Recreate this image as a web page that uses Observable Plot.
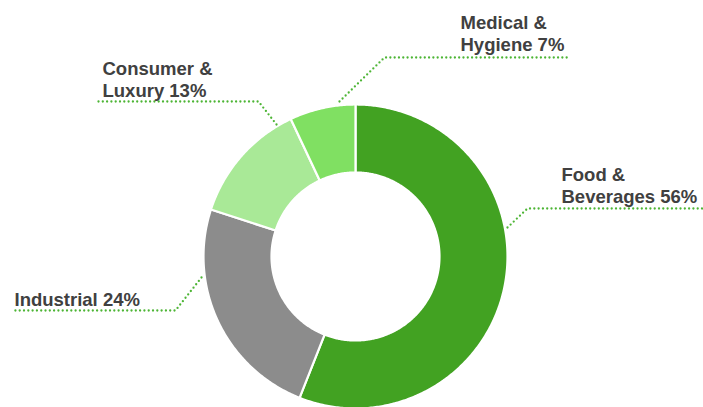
<!DOCTYPE html>
<html>
<head>
<meta charset="utf-8">
<script src="https://cdn.jsdelivr.net/npm/d3@7"></script>
<script src="https://cdn.jsdelivr.net/npm/@observablehq/plot@0.6"></script>
<style>
  html, body { margin: 0; padding: 0; background: #ffffff; }
  #chart svg { display: block; }
</style>
</head>
<body>
<div id="chart"></div>
<script>
// ---- data ----
const categories = ["Food & Beverages", "Industrial", "Consumer & Luxury", "Medical & Hygiene"];
const shares = [56, 24, 13, 7];
const colors = ["#42a222", "#8c8c8c", "#a9e997", "#80e062"];

// ---- layout (pixels) ----
const W = 703, H = 407;
const cx = 355, cy = 256, rOuter = 152, rInner = 84;
// label anchor (left x, top y) per category
const labelX = [561, 14, 102, 460];
const labelY = [165, 290, 59, 13];
// leader polylines per category: [start on ring, elbow, end]
const leaderPts = [
  [[507, 227], [527, 208], [703, 208]],
  [[201, 277], [175, 310], [13, 310]],
  [[276, 124], [258, 101], [97, 101]],
  [[339, 101], [384, 57], [567, 57]]
];

// ---- build slice polygons from the shares ----
const total = d3.sum(shares);
const sliceRows = [];
let acc = 0;
categories.forEach((cat, i) => {
  const a0 = acc / total * 2 * Math.PI;
  acc += shares[i];
  const a1 = acc / total * 2 * Math.PI;
  const n = Math.max(8, Math.ceil((a1 - a0) / 0.01));
  for (let k = 0; k <= n; k++) {
    const a = a0 + (a1 - a0) * k / n;
    sliceRows.push({cat, x: cx + rOuter * Math.sin(a), y: cy - rOuter * Math.cos(a)});
  }
  for (let k = n; k >= 0; k--) {
    const a = a0 + (a1 - a0) * k / n;
    sliceRows.push({cat, x: cx + rInner * Math.sin(a), y: cy - rInner * Math.cos(a)});
  }
});

const leaderRows = [];
leaderPts.forEach((pts, i) => pts.forEach(([x, y]) => leaderRows.push({cat: categories[i], x, y})));

const labels = categories.map((cat, i) => ({
  cat,
  x: labelX[i],
  y: labelY[i],
  text: cat.replace("& ", "&\n") + " " + shares[i] + "%"
}));

const chart = Plot.plot({
  width: W,
  height: H,
  margin: 0,
  style: {background: "#ffffff", overflow: "visible"},
  x: {domain: [0, W], range: [0, W], axis: null},
  y: {domain: [0, H], range: [0, H], axis: null},
  color: {domain: categories, range: colors},
  marks: [
    Plot.line(sliceRows, {x: "x", y: "y", z: "cat", fill: "cat", stroke: "#ffffff", strokeWidth: 2.2, curve: "linear-closed"}),
    Plot.line(leaderRows, {x: "x", y: "y", z: "cat", stroke: "#4db535", strokeWidth: 2.3, strokeDasharray: "0 4.3", strokeLinecap: "round", curve: "linear"}),
    Plot.text(labels, {
      x: "x", y: "y", text: "text",
      textAnchor: "start", lineAnchor: "top", lineHeight: 1.2,
      fontSize: 18.5, fontWeight: "bold", fill: "#404040",
      fontFamily: "'Liberation Sans', Arial, sans-serif"
    })
  ]
});
document.getElementById("chart").appendChild(chart);
</script>
</body>
</html>
